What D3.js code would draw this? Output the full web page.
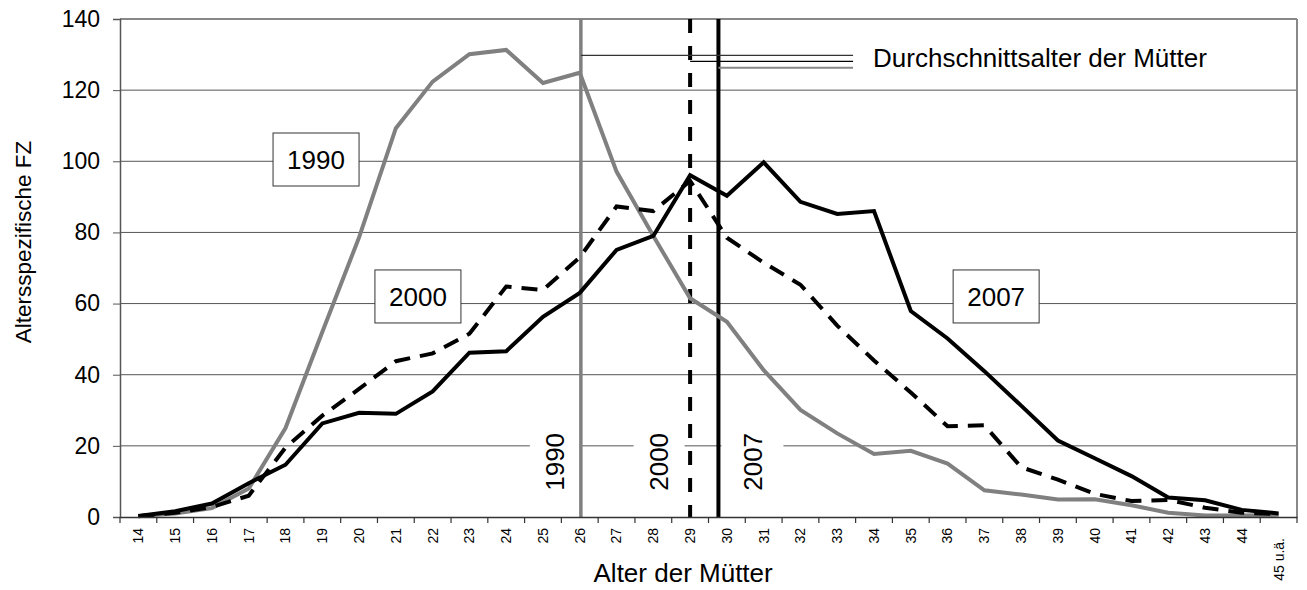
<!DOCTYPE html>
<html>
<head>
<meta charset="utf-8">
<script src="https://cdn.jsdelivr.net/npm/d3@7"></script>
<style>
  body { margin: 0; background: #fff; }
  text { font-family: "Liberation Sans", Arial, sans-serif; fill: #000; }
</style>
</head>
<body>
<div id="chart"></div>
<script>
//
// Altersspezifische Fruchtbarkeitsziffern 1990 / 2000 / 2007
//

var ages = ["14","15","16","17","18","19","20","21","22","23","24","25","26","27","28","29",
            "30","31","32","33","34","35","36","37","38","39","40","41","42","43","44","45 u.ä."];

var fz1990 = [0.3, 1.0, 2.5, 8.0, 25.0, 52.0, 78.6, 109.3, 122.4, 130.1, 131.3, 122.0, 124.9, 97.1, 79.0, 61.5,
              54.9, 41.3, 30.1, 23.5, 17.7, 18.6, 15.0, 7.5, 6.3, 4.9, 5.0, 3.3, 1.2, 0.4, 0.4, 0.6];
var fz2000 = [0.2, 1.2, 2.8, 6.0, 19.5, 28.5, 36.0, 43.8, 46.0, 51.5, 64.8, 63.8, 73.0, 87.3, 86.0, 94.5,
              78.5, 71.5, 65.3, 53.8, 44.0, 35.0, 25.5, 25.8, 14.0, 10.5, 6.5, 4.5, 4.8, 2.6, 1.2, 0.8];
var fz2007 = [0.3, 1.6, 3.8, 9.5, 14.7, 26.3, 29.3, 29.0, 35.3, 46.2, 46.6, 56.3, 63.0, 75.1, 79.0, 96.1,
              90.3, 99.7, 88.6, 85.2, 86.0, 57.9, 50.2, 41.0, 31.3, 21.5, 16.5, 11.5, 5.5, 4.7, 2.0, 1.0];

var years = ["1990", "2000", "2007"];
var meanAge = [26.03, 29.0, 29.77];
var yTicks = [0, 20, 40, 60, 80, 100, 120, 140];

var margin = {top: 19, right: 10, bottom: 73, left: 120};
var W = 1307, H = 590;
var width = W - margin.left - margin.right;
var height = H - margin.top - margin.bottom;

var svg = d3.select("#chart").append("svg")
	.attr("width", W)
	.attr("height", H);
var g = svg.append("g")
	.attr("transform", "translate(" + margin.left + "," + margin.top + ")");

//
// scales
//
var x = d3.scaleBand().domain(ages).range([0, width]).padding(0);
var bw = x.bandwidth();
// continuous age scale (category centres) for the average-age lines
var xa = d3.scaleLinear().domain([14, 45]).range([x("14") + bw / 2, x("45 u.ä.") + bw / 2]);
var y = d3.scaleLinear().domain([0, 140]).range([height, 0]);

//
// gridlines
//
g.selectAll(".grid")
	.data(yTicks.filter(function(d) { return d > 0 && d < 140; }))
	.enter().append("line")
	.attr("x1", 0).attr("x2", width)
	.attr("y1", function(d) { return y(d); })
	.attr("y2", function(d) { return y(d); })
	.style("stroke", "#555")
	.style("stroke-width", 1);

// frame top / right
g.append("line").attr("x1", 0).attr("x2", width).attr("y1", y(140)).attr("y2", y(140))
	.style("stroke", "#888").style("stroke-width", 2);
g.append("line").attr("x1", width).attr("x2", width).attr("y1", y(140)).attr("y2", y(0))
	.style("stroke", "#888").style("stroke-width", 2);

//
// white backgrounds of the rotated year labels (cut the 20-gridline)
//
var vOff = [-26, -31, 34];
var vW = [50, 51, 62];
var vVal = 15.5;
g.selectAll(".vbg")
	.data(years)
	.enter().append("rect")
	.attr("x", function(d, i) { return xa(meanAge[i]) + vOff[i] - vW[i] / 2; })
	.attr("y", y(vVal) - 38)
	.attr("width", function(d, i) { return vW[i]; })
	.attr("height", 76)
	.style("fill", "#fff");

//
// average age lines
//
var vStroke = ["#808080", "#000", "#000"];
var vDash = [null, "14,13", null];
g.selectAll(".mean")
	.data(meanAge)
	.enter().append("line")
	.attr("x1", function(d) { return xa(d); })
	.attr("x2", function(d) { return xa(d); })
	.attr("y1", y(140)).attr("y2", y(0))
	.style("stroke", function(d, i) { return vStroke[i]; })
	.style("stroke-width", function(d, i) { return i == 0 ? 3.5 : 4; })
	.style("stroke-dasharray", function(d, i) { return vDash[i]; });

g.selectAll(".vlab")
	.data(years)
	.enter().append("text")
	.attr("transform", function(d, i) {
		return "translate(" + (xa(meanAge[i]) + vOff[i]) + "," + y(vVal) + ") rotate(-90)"; })
	.attr("text-anchor", "middle")
	.attr("dy", "0.35em")
	.style("font-size", "26px")
	.text(function(d) { return d; });

//
// leader lines to the annotation
//
var leadY = [129.8, 128.1, 126.3];
var leadC = ["#333", "#000", "#888"];
var leadEnd = 33.43;
g.selectAll(".lead")
	.data(meanAge)
	.enter().append("line")
	.attr("x1", function(d) { return xa(d); })
	.attr("x2", xa(leadEnd))
	.attr("y1", function(d, i) { return y(leadY[i]); })
	.attr("y2", function(d, i) { return y(leadY[i]); })
	.style("stroke", function(d, i) { return leadC[i]; })
	.style("stroke-width", function(d, i) { return i == 2 ? 2 : 1.3; });

g.append("text")
	.attr("x", xa(leadEnd) + 20)
	.attr("y", y(leadY[0]) + 3)
	.attr("dy", "0.35em")
	.style("font-size", "26px")
	.text("Durchschnittsalter der Mütter");

//
// series
//
var line = d3.line()
	.x(function(d, i) { return x(ages[i]) + bw / 2; })
	.y(function(d) { return y(d); });

g.append("path").attr("d", line(fz1990))
	.attr("fill", "none").style("stroke", "#808080").style("stroke-width", 4);
g.append("path").attr("d", line(fz2000))
	.attr("fill", "none").style("stroke", "#000").style("stroke-width", 4)
	.style("stroke-dasharray", "16,10");
g.append("path").attr("d", line(fz2007))
	.attr("fill", "none").style("stroke", "#000").style("stroke-width", 4);

//
// year boxes
//
var boxAge = [18.83, 21.6, 37.32];
var boxVal = [100.5, 62, 62];
var box = g.selectAll(".box")
	.data(years)
	.enter().append("g")
	.attr("transform", function(d, i) { return "translate(" + xa(boxAge[i]) + "," + y(boxVal[i]) + ")"; });
box.append("rect")
	.attr("x", -43).attr("y", -26.5).attr("width", 86).attr("height", 53)
	.style("fill", "#fff").style("stroke", "#333").style("stroke-width", 1);
box.append("text")
	.attr("text-anchor", "middle")
	.attr("dy", "0.35em")
	.style("font-size", "26px")
	.text(function(d) { return d; });

//
// axes
//
var yAxis = g.append("g")
	.call(d3.axisLeft(y).tickValues(yTicks).tickSize(7).tickPadding(13));
yAxis.select(".domain").style("stroke", "#555").style("stroke-width", 1.5);
yAxis.selectAll(".tick line").style("stroke", "#555");
yAxis.selectAll("text").style("font-size", "23px").style("font-family", "Liberation Sans, Arial, sans-serif");

var xAxis = g.append("g")
	.attr("transform", "translate(0," + height + ")")
	.call(d3.axisBottom(x).tickSize(0).tickPadding(0));
xAxis.select(".domain").style("stroke", "#333").style("stroke-width", 1.5);
xAxis.selectAll("text")
	.attr("transform", "rotate(-90)")
	.attr("text-anchor", "end")
	.attr("x", function(d) { return d.length > 2 ? -21 : -11; })
	.attr("y", 0)
	.attr("dy", "0.35em")
	.style("font-size", "14px")
	.style("font-family", "Liberation Sans, Arial, sans-serif");

// tick marks between categories
g.selectAll(".xtick")
	.data(d3.range(ages.length + 1))
	.enter().append("line")
	.attr("x1", function(d) { return d * bw; })
	.attr("x2", function(d) { return d * bw; })
	.attr("y1", height).attr("y2", height + 6)
	.style("stroke", "#333").style("stroke-width", 1.2);

//
// axis titles
//
g.append("text")
	.attr("x", xa(28.81))
	.attr("y", height + 65)
	.attr("text-anchor", "middle")
	.style("font-size", "26px")
	.text("Alter der Mütter");

g.append("text")
	.attr("transform", "translate(" + (-97) + "," + 223 + ") rotate(-90)")
	.attr("text-anchor", "middle")
	.attr("dy", "0.35em")
	.style("font-size", "22.5px")
	.text("Altersspezifische FZ");
</script>
</body>
</html>
